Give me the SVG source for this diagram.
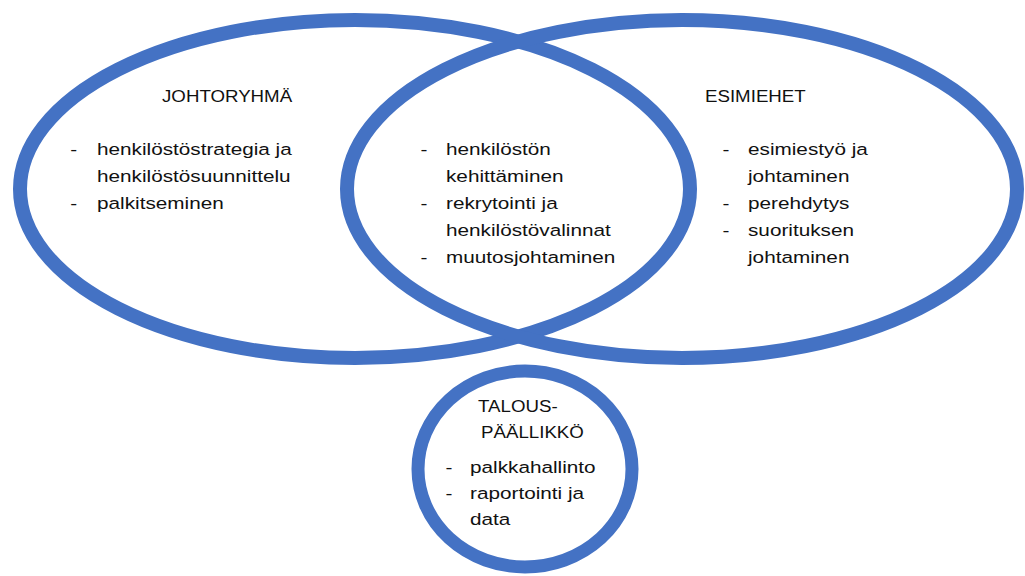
<svg xmlns="http://www.w3.org/2000/svg" width="1025" height="576" viewBox="0 0 1025 576">
<style>
.shape{fill:none;stroke:#4472C4;stroke-width:14}
.t{font-family:"Liberation Sans",Arial,sans-serif;font-size:17px;fill:#111}
</style>
<rect x="0" y="0" width="1025" height="576" fill="#ffffff"/>
<g id="connectors"></g>
<g id="johtoryhma">
<ellipse class="shape" cx="355" cy="189" rx="335" ry="169"/>
<text class="t" transform="translate(162,0) scale(1.1,1)" x="0" y="102">JOHTORYHMÄ</text>
<g transform="translate(97,0) scale(1.22,1)">
<text class="t" x="-22" y="155">-</text>
<text class="t" x="0" y="155">henkilöstöstrategia ja</text>
<text class="t" x="0" y="182">henkilöstösuunnittelu</text>
<text class="t" x="-22" y="209">-</text>
<text class="t" x="0" y="209">palkitseminen</text>
</g>
</g>
<g id="esimiehet">
<ellipse class="shape" cx="682" cy="189" rx="335" ry="169"/>
<text class="t" transform="translate(705,0) scale(1.1,1)" x="0" y="102">ESIMIEHET</text>
<g transform="translate(748,0) scale(1.22,1)">
<text class="t" x="-21" y="155">-</text>
<text class="t" x="0" y="155">esimiestyö ja</text>
<text class="t" x="0" y="182">johtaminen</text>
<text class="t" x="-21" y="209">-</text>
<text class="t" x="0" y="209">perehdytys</text>
<text class="t" x="-21" y="236">-</text>
<text class="t" x="0" y="236">suorituksen</text>
<text class="t" x="0" y="263">johtaminen</text>
</g>
</g>
<g id="yhteiset">
<g transform="translate(446,0) scale(1.22,1)">
<text class="t" x="-21" y="155">-</text>
<text class="t" x="0" y="155">henkilöstön</text>
<text class="t" x="0" y="182">kehittäminen</text>
<text class="t" x="-21" y="209">-</text>
<text class="t" x="0" y="209">rekrytointi ja</text>
<text class="t" x="0" y="236">henkilöstövalinnat</text>
<text class="t" x="-21" y="263">-</text>
<text class="t" x="0" y="263">muutosjohtaminen</text>
</g>
</g>
<g id="talouspaallikko">
<ellipse class="shape" cx="525" cy="469" rx="107" ry="98" style="stroke-width:13"/>
<text class="t" transform="translate(478,0) scale(1.1,1)" x="0" y="412">TALOUS-</text>
<text class="t" transform="translate(481,0) scale(1.1,1)" x="0" y="438">PÄÄLLIKKÖ</text>
<g transform="translate(470,0) scale(1.22,1)">
<text class="t" x="-20" y="473">-</text>
<text class="t" x="0" y="473">palkkahallinto</text>
<text class="t" x="-20" y="499">-</text>
<text class="t" x="0" y="499">raportointi ja</text>
<text class="t" x="0" y="525">data</text>
</g>
</g>
</svg>
